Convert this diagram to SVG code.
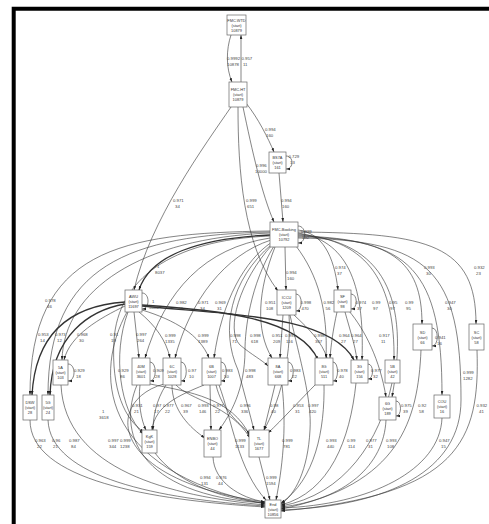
<svg xmlns="http://www.w3.org/2000/svg" width="489" height="524" viewBox="0 0 489 524">
<style>
.e{fill:none;stroke:#333;stroke-width:0.6}
.k{stroke-width:1.3}
.n rect{fill:#fff;stroke:#666;stroke-width:0.7}
.n text{font-family:"Liberation Sans",Arial,sans-serif;font-size:3.9px;fill:#333;text-anchor:middle}
.l{font-family:"Liberation Sans",Arial,sans-serif;font-size:4.3px;fill:#444}
</style>
<defs>
<marker id="a" viewBox="0 0 6 4" refX="6" refY="2" markerWidth="4" markerHeight="3" orient="auto" markerUnits="userSpaceOnUse"><path d="M0,0 L6,2 L0,4z" fill="#222"/></marker>
</defs>
<rect width="489" height="524" fill="#fff"/>
<path d="M13.7,524 V8.7 H489" fill="none" stroke="#000" stroke-width="4"/>
<g id="connectors" marker-end="url(#a)">
<path class="e" d="M231,35 C226,50 226,68 232,82"/>
<path class="e" d="M241,82 L241,35"/>
<path class="e" d="M231,107 C205,145 150,220 134,290"/>
<path class="e" d="M238,107 C238,170 243,245 278,291"/>
<path class="e" d="M243,107 C252,150 262,195 274,222"/>
<path class="e" d="M246,103 C258,118 268,138 274,152"/>
<path class="e" d="M286,156 C294,156 294,169 286,169"/>
<path class="e" d="M279,173 L283,222"/>
<path class="e" d="M298,226 C307,226 307,243 298,243"/>
<path class="e" d="M285,247 L286,290"/>
<path class="e" d="M270,231 C120,233 30,250 30,395"/>
<path class="e" d="M270,232 C130,235 48,265 48,395"/>
<path class="e" d="M270,233 C140,238 64,290 62,360"/>
<path class="e k" d="M270,235 C200,238 150,255 139,290"/>
<path class="e" d="M270,236 C170,240 118,280 114,340 C111,390 125,420 144,432"/>
<path class="e" d="M270,238 C205,248 165,290 145,358"/>
<path class="e" d="M271,240 C225,255 190,300 175,358"/>
<path class="e" d="M272,242 C245,260 222,300 214,358"/>
<path class="e" d="M272,245 C240,280 225,330 240,345 C252,355 262,360 268,366"/>
<path class="e" d="M275,247 C258,290 255,330 272,358"/>
<path class="e" d="M272,244 C230,280 220,330 238,370 C245,395 250,415 254,430"/>
<path class="e" d="M274,246 C250,285 245,330 245,350 C245,390 230,415 219,430"/>
<path class="e" d="M298,230 C322,233 334,255 338,290"/>
<path class="e" d="M296,246 C318,275 328,310 326,358"/>
<path class="e" d="M298,233 C345,240 365,280 362,360"/>
<path class="e" d="M298,234 C370,240 395,285 394,360"/>
<path class="e" d="M298,235 C385,240 410,300 392,397"/>
<path class="e" d="M298,236 C390,238 422,260 422,324"/>
<path class="e" d="M298,237 C410,238 442,270 442,395"/>
<path class="e" d="M298,238 C430,240 461,270 461,400 C461,470 390,506 281,510"/>
<path class="e" d="M298,232 C430,233 476,245 476,324"/>
<path class="e" d="M296,294 C303,294 303,311 296,311"/>
<path class="e" d="M294,315 C310,330 322,342 327,358"/>
<path class="e" d="M283,315 L280,358"/>
<path class="e" d="M289,315 C292,360 278,405 264,430"/>
<path class="e k" d="M142,305 C220,310 300,318 318,360"/>
<path class="e k" d="M142,306 C230,315 330,315 354,360"/>
<path class="e" d="M142,293 C150,293 150,309 142,309"/>
<path class="e k" d="M125,302 C80,305 36,325 32,395"/>
<path class="e k" d="M125,304 C90,310 52,335 50,395"/>
<path class="e" d="M125,306 C100,318 70,335 64,360"/>
<path class="e" d="M128,312 C112,355 120,410 143,434"/>
<path class="e" d="M134,312 L139,358"/>
<path class="e" d="M139,312 C155,325 166,340 170,358"/>
<path class="e" d="M142,310 C175,320 200,335 209,358"/>
<path class="e" d="M127,312 C95,370 95,470 265,504"/>
<path class="e" d="M68,364 C76,364 76,381 68,381"/>
<path class="e" d="M61,385 C65,470 170,496 265,505"/>
<path class="e" d="M30,420 C30,480 150,500 265,507"/>
<path class="e" d="M48,420 C50,478 160,499 265,506"/>
<path class="e" d="M150,362 C157,362 157,381 150,381"/>
<path class="e" d="M140,385 C138,402 141,420 146,430"/>
<path class="e" d="M150,384 C190,392 232,398 250,436"/>
<path class="e" d="M137,385 C118,430 135,495 265,503"/>
<path class="e" d="M164,384 C105,400 105,480 265,502"/>
<path class="e" d="M181,362 C188,362 188,381 181,381"/>
<path class="e" d="M166,385 C156,400 153,418 153,430"/>
<path class="e" d="M172,385 C172,410 190,428 205,438"/>
<path class="e" d="M176,385 C190,400 230,405 250,438"/>
<path class="e" d="M221,362 C228,362 228,381 221,381"/>
<path class="e" d="M210,385 L211,430"/>
<path class="e" d="M204,385 C180,395 155,405 152,430"/>
<path class="e" d="M216,385 C222,410 238,422 250,434"/>
<path class="e" d="M155,453 C175,480 215,498 265,503"/>
<path class="e" d="M213,457 C214,482 240,498 265,502"/>
<path class="e" d="M259,457 L270,500"/>
<path class="e" d="M219,385 C232,420 238,470 266,500"/>
<path class="e" d="M288,362 C295,362 295,381 288,381"/>
<path class="e" d="M275,385 L264,430"/>
<path class="e" d="M282,385 C287,430 282,470 276,500"/>
<path class="e" d="M333,362 C339,362 339,381 333,381"/>
<path class="e" d="M317,383 C300,400 282,420 268,433"/>
<path class="e" d="M324,383 C325,430 315,480 281,503"/>
<path class="e" d="M368,364 C374,364 374,379 368,379"/>
<path class="e" d="M356,383 C350,440 330,492 281,505"/>
<path class="e" d="M290,315 C300,360 312,400 310,430 C308,470 295,495 281,504"/>
<path class="e" d="M392,383 C380,440 345,495 281,506"/>
<path class="e" d="M396,401 C402,401 402,416 396,416"/>
<path class="e" d="M386,420 C384,465 345,500 281,507"/>
<path class="e" d="M432,328 C439,328 439,346 432,346"/>
<path class="e" d="M421,350 C418,420 400,485 281,509"/>
<path class="e" d="M442,418 C440,470 370,505 281,508"/>
<path class="e" d="M477,350 C480,440 460,495 281,511"/>
<path class="e" d="M351,294 C358,294 358,309 351,309"/>
<path class="e" d="M337,312 C333,330 331,345 330,358"/>
<path class="e" d="M345,312 C350,330 355,345 357,360"/>
<path class="e" d="M349,311 C365,330 380,360 386,397"/>
</g>
<g id="n_wtd" class="n"><rect x="227" y="15" width="19" height="20"/><text x="236.5" y="21.5">FMC.WTD<tspan x="236.5" dy="5">(start)</tspan><tspan x="236.5" dy="5">10879</tspan></text></g>
<g id="n_ht" class="n"><rect x="229" y="82" width="18" height="25"/><text x="238" y="91">FMC.HT<tspan x="238" dy="5">(start)</tspan><tspan x="238" dy="5">10879</tspan></text></g>
<g id="n_bs" class="n"><rect x="269" y="152" width="17" height="21"/><text x="277.5" y="159">BS7A<tspan x="277.5" dy="5">(start)</tspan><tspan x="277.5" dy="5">161</tspan></text></g>
<g id="n_fb" class="n"><rect x="270" y="222" width="28" height="25"/><text x="284" y="231">FMC-Booking<tspan x="284" dy="5">(start)</tspan><tspan x="284" dy="5">10792</tspan></text></g>
<g id="n_iccu" class="n"><rect x="277" y="290" width="19" height="25"/><text x="286.5" y="299">ICCU<tspan x="286.5" dy="5">(start)</tspan><tspan x="286.5" dy="5">1209</tspan></text></g>
<g id="n_sf" class="n"><rect x="334" y="290" width="17" height="22"/><text x="342.5" y="297.5">SF<tspan x="342.5" dy="5">(start)</tspan><tspan x="342.5" dy="5">98</tspan></text></g>
<g id="n_sd" class="n"><rect x="413" y="324" width="19" height="26"/><text x="422.5" y="333.5">SD<tspan x="422.5" dy="5">(start)</tspan><tspan x="422.5" dy="5">66</tspan></text></g>
<g id="n_sc" class="n"><rect x="469" y="324" width="15" height="26"/><text x="476.5" y="333.5">SC<tspan x="476.5" dy="5">(start)</tspan><tspan x="476.5" dy="5">58</tspan></text></g>
<g id="n_awu" class="n"><rect x="125" y="290" width="17" height="22"/><text x="133.5" y="297.5">AWU<tspan x="133.5" dy="5">(start)</tspan><tspan x="133.5" dy="5">11697</tspan></text></g>
<g id="n_5a" class="n"><rect x="53" y="360" width="15" height="25"/><text x="60.5" y="369">5A<tspan x="60.5" dy="5">(start)</tspan><tspan x="60.5" dy="5">103</tspan></text></g>
<g id="n_dsw" class="n"><rect x="23" y="395" width="14" height="25"/><text x="30" y="404">DSW<tspan x="30" dy="5">(start)</tspan><tspan x="30" dy="5">28</tspan></text></g>
<g id="n_5g" class="n"><rect x="42" y="395" width="12" height="25"/><text x="48" y="404">5G<tspan x="48" dy="5">(start)</tspan><tspan x="48" dy="5">24</tspan></text></g>
<g id="n_40m" class="n"><rect x="132" y="358" width="18" height="27"/><text x="141" y="368">40M<tspan x="141" dy="5">(start)</tspan><tspan x="141" dy="5">3601</tspan></text></g>
<g id="n_6c" class="n"><rect x="163" y="358" width="18" height="27"/><text x="172" y="368">6C<tspan x="172" dy="5">(start)</tspan><tspan x="172" dy="5">1028</tspan></text></g>
<g id="n_6b" class="n"><rect x="202" y="358" width="19" height="27"/><text x="211.5" y="368">6B<tspan x="211.5" dy="5">(start)</tspan><tspan x="211.5" dy="5">1007</tspan></text></g>
<g id="n_8a" class="n"><rect x="268" y="358" width="20" height="27"/><text x="278" y="368">8A<tspan x="278" dy="5">(start)</tspan><tspan x="278" dy="5">668</tspan></text></g>
<g id="n_8g" class="n"><rect x="315" y="358" width="18" height="27"/><text x="324" y="368">8G<tspan x="324" dy="5">(start)</tspan><tspan x="324" dy="5">511</tspan></text></g>
<g id="n_3g" class="n"><rect x="351" y="360" width="17" height="23"/><text x="359.5" y="368">3G<tspan x="359.5" dy="5">(start)</tspan><tspan x="359.5" dy="5">156</tspan></text></g>
<g id="n_5b" class="n"><rect x="385" y="360" width="15" height="23"/><text x="392.5" y="368">5B<tspan x="392.5" dy="5">(start)</tspan><tspan x="392.5" dy="5">42</tspan></text></g>
<g id="n_6g" class="n"><rect x="379" y="397" width="17" height="23"/><text x="387.5" y="405">6G<tspan x="387.5" dy="5">(start)</tspan><tspan x="387.5" dy="5">189</tspan></text></g>
<g id="n_cou" class="n"><rect x="434" y="395" width="16" height="23"/><text x="442" y="403">COU<tspan x="442" dy="5">(start)</tspan><tspan x="442" dy="5">16</tspan></text></g>
<g id="n_kgk" class="n"><rect x="142" y="430" width="15" height="23"/><text x="149.5" y="438">KgK<tspan x="149.5" dy="5">(start)</tspan><tspan x="149.5" dy="5">159</tspan></text></g>
<g id="n_enbo" class="n"><rect x="204" y="430" width="17" height="27"/><text x="212.5" y="440">ENBO<tspan x="212.5" dy="5">(start)</tspan><tspan x="212.5" dy="5">44</tspan></text></g>
<g id="n_tl" class="n"><rect x="249" y="430" width="20" height="27"/><text x="259" y="440">TL<tspan x="259" dy="5">(start)</tspan><tspan x="259" dy="5">1677</tspan></text></g>
<g id="n_end" class="n"><rect x="265" y="500" width="16" height="18"/><text x="273" y="505.5">End<tspan x="273" dy="5">(start)</tspan><tspan x="273" dy="5">10856</tspan></text></g>
<g id="labels">
<text class="l" x="227" y="60">0.9992<tspan x="227" dy="6">10878</tspan></text>
<text class="l" x="241.5" y="60">0.957<tspan x="243" dy="6">11</tspan></text>
<text class="l" x="173" y="202">0.971<tspan x="175" dy="6">34</tspan></text>
<text class="l" x="246" y="202">0.999<tspan x="247" dy="6">651</tspan></text>
<text class="l" x="256" y="167">0.996<tspan x="255" dy="6">10000</tspan></text>
<text class="l" x="265" y="131">0.994<tspan x="266" dy="6">160</tspan></text>
<text class="l" x="288.5" y="158">0.729<tspan x="290" dy="6">13</tspan></text>
<text class="l" x="281" y="202">0.994<tspan x="282" dy="6">160</tspan></text>
<text class="l" x="301" y="233">0.999<tspan x="302" dy="6">192</tspan></text>
<text class="l" x="286" y="274">0.994<tspan x="287" dy="6">160</tspan></text>
<text class="l" x="45" y="302">0.978<tspan x="47" dy="6">46</tspan></text>
<text class="l" x="157" y="268">1<tspan x="155" dy="6">8037</tspan></text>
<text class="l" x="118" y="372">0.929<tspan x="120" dy="6">86</tspan></text>
<text class="l" x="176" y="304">0.982<tspan x="178" dy="6">79</tspan></text>
<text class="l" x="198" y="304">0.971<tspan x="200" dy="6">34</tspan></text>
<text class="l" x="215" y="304">0.969<tspan x="217" dy="6">31</tspan></text>
<text class="l" x="230" y="337">0.998<tspan x="232" dy="6">71</tspan></text>
<text class="l" x="265" y="304">0.951<tspan x="266" dy="6">108</tspan></text>
<text class="l" x="245" y="372">0.998<tspan x="246" dy="6">483</tspan></text>
<text class="l" x="335" y="269">0.974<tspan x="337" dy="6">37</tspan></text>
<text class="l" x="323.5" y="304">0.982<tspan x="325.5" dy="6">56</tspan></text>
<text class="l" x="372" y="304">0.99<tspan x="373" dy="6">97</tspan></text>
<text class="l" x="389" y="304">0.95<tspan x="390" dy="6">97</tspan></text>
<text class="l" x="405" y="304">0.99<tspan x="406" dy="6">95</tspan></text>
<text class="l" x="424" y="269">0.993<tspan x="426" dy="6">30</tspan></text>
<text class="l" x="445" y="304">0.947<tspan x="447" dy="6">30</tspan></text>
<text class="l" x="463" y="374">0.999<tspan x="463" dy="6">1282</tspan></text>
<text class="l" x="474" y="269">0.932<tspan x="476" dy="6">23</tspan></text>
<text class="l" x="300.5" y="304">0.998<tspan x="301.5" dy="6">470</tspan></text>
<text class="l" x="314" y="337">0.998<tspan x="315" dy="6">367</tspan></text>
<text class="l" x="272" y="337">0.951<tspan x="273" dy="6">209</tspan></text>
<text class="l" x="285" y="337">0.991<tspan x="286" dy="6">116</tspan></text>
<text class="l" x="152" y="303">1<tspan x="149" dy="6">5004</tspan></text>
<text class="l" x="38" y="336">0.953<tspan x="40" dy="6">14</tspan></text>
<text class="l" x="55" y="336">0.973<tspan x="57" dy="6">12</tspan></text>
<text class="l" x="77" y="336">0.968<tspan x="79" dy="6">30</tspan></text>
<text class="l" x="110" y="336">0.91<tspan x="111" dy="6">19</tspan></text>
<text class="l" x="136" y="336">0.997<tspan x="137" dy="6">264</tspan></text>
<text class="l" x="165" y="337">0.999<tspan x="165" dy="6">1335</tspan></text>
<text class="l" x="198" y="337">0.999<tspan x="198" dy="6">1389</tspan></text>
<text class="l" x="102" y="413">1<tspan x="99" dy="6">3618</tspan></text>
<text class="l" x="74" y="372">0.929<tspan x="76" dy="6">18</tspan></text>
<text class="l" x="69" y="442">0.987<tspan x="71" dy="6">84</tspan></text>
<text class="l" x="35" y="442">0.963<tspan x="37" dy="6">22</tspan></text>
<text class="l" x="52" y="442">0.96<tspan x="53" dy="6">21</tspan></text>
<text class="l" x="153" y="372">0.909<tspan x="155" dy="6">28</tspan></text>
<text class="l" x="132" y="407">0.931<tspan x="134" dy="6">21</tspan></text>
<text class="l" x="120" y="442">0.999<tspan x="120" dy="6">1238</tspan></text>
<text class="l" x="108" y="442">0.997<tspan x="109" dy="6">344</tspan></text>
<text class="l" x="188" y="372">0.97<tspan x="189" dy="6">10</tspan></text>
<text class="l" x="153" y="407">0.97<tspan x="154" dy="6">17</tspan></text>
<text class="l" x="163" y="407">0.977<tspan x="165" dy="6">22</tspan></text>
<text class="l" x="181" y="407">0.967<tspan x="183" dy="6">39</tspan></text>
<text class="l" x="222" y="372">0.983<tspan x="224" dy="6">50</tspan></text>
<text class="l" x="198" y="407">0.993<tspan x="199" dy="6">146</tspan></text>
<text class="l" x="213" y="407">0.977<tspan x="215" dy="6">22</tspan></text>
<text class="l" x="240" y="407">0.996<tspan x="241" dy="6">336</tspan></text>
<text class="l" x="200" y="479">0.994<tspan x="201" dy="6">131</tspan></text>
<text class="l" x="216" y="479">0.976<tspan x="218" dy="6">44</tspan></text>
<text class="l" x="266" y="479">0.999<tspan x="266" dy="6">1594</tspan></text>
<text class="l" x="235" y="442">0.999<tspan x="235" dy="6">1133</tspan></text>
<text class="l" x="290" y="372">0.983<tspan x="292" dy="6">22</tspan></text>
<text class="l" x="270" y="407">0.98<tspan x="271" dy="6">40</tspan></text>
<text class="l" x="282" y="442">0.999<tspan x="283" dy="6">781</tspan></text>
<text class="l" x="337" y="372">0.978<tspan x="339" dy="6">40</tspan></text>
<text class="l" x="293" y="407">0.953<tspan x="295" dy="6">31</tspan></text>
<text class="l" x="326" y="442">0.993<tspan x="327" dy="6">440</tspan></text>
<text class="l" x="371" y="372">0.977<tspan x="373" dy="6">32</tspan></text>
<text class="l" x="347" y="442">0.99<tspan x="348" dy="6">114</tspan></text>
<text class="l" x="308" y="407">0.997<tspan x="309" dy="6">420</tspan></text>
<text class="l" x="366" y="442">0.977<tspan x="368" dy="6">31</tspan></text>
<text class="l" x="401" y="407">0.975<tspan x="403" dy="6">39</tspan></text>
<text class="l" x="386" y="442">0.993<tspan x="387" dy="6">108</tspan></text>
<text class="l" x="435" y="339">0.941<tspan x="437" dy="6">16</tspan></text>
<text class="l" x="418" y="407">0.92<tspan x="419" dy="6">58</tspan></text>
<text class="l" x="439" y="442">0.947<tspan x="441" dy="6">15</tspan></text>
<text class="l" x="476.5" y="407">0.932<tspan x="479" dy="6">41</tspan></text>
<text class="l" x="355.5" y="304">0.974<tspan x="357" dy="6">37</tspan></text>
<text class="l" x="339" y="337">0.964<tspan x="341" dy="6">27</tspan></text>
<text class="l" x="351" y="337">0.964<tspan x="353" dy="6">27</tspan></text>
<text class="l" x="379" y="337">0.917<tspan x="381" dy="6">11</tspan></text>
<text class="l" x="250" y="337">0.998<tspan x="251" dy="6">618</tspan></text>
</g>
</svg>
